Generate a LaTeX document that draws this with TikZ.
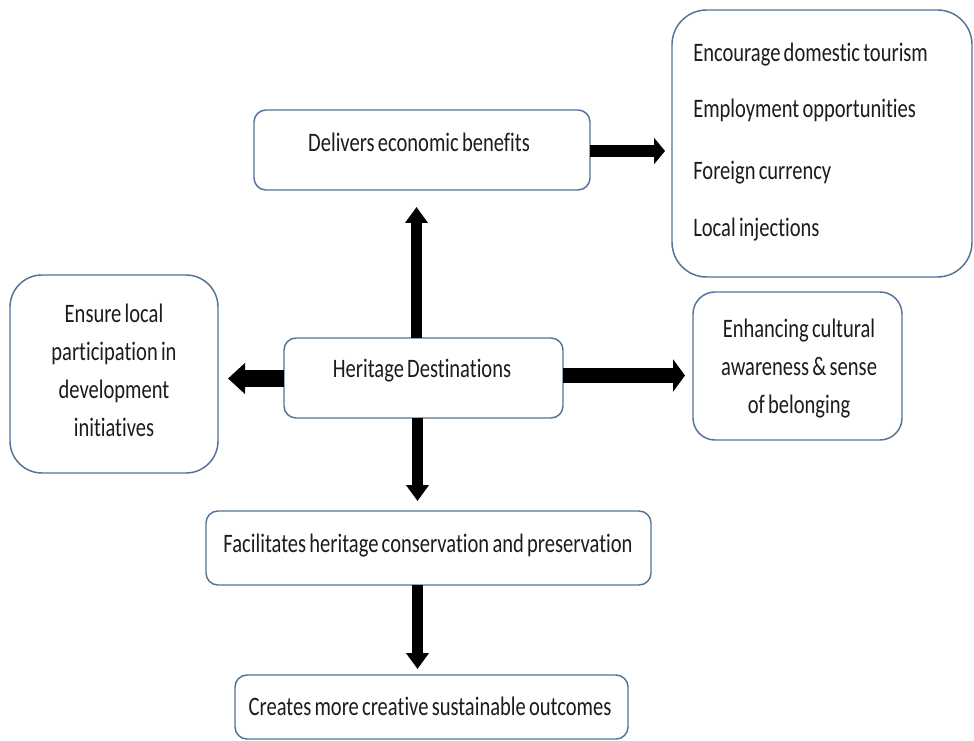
\documentclass[tikz,border=0pt]{standalone}
\usepackage{fontspec}
\setmainfont{Carlito}[FakeStretch=0.77, WordSpace=0.7, RawFeature=-liga]
\usetikzlibrary{arrows.meta}
\definecolor{edge}{RGB}{84,114,150}
\definecolor{ink}{RGB}{28,28,28}
\begin{document}
\begin{tikzpicture}[x=0.75pt,y=-0.75pt,
  box/.style={draw=edge, line width=1.1pt, fill=white, rectangle,
    inner sep=0pt, outer sep=0pt, anchor=north west, rounded corners=#1},
  box/.default=9pt,
  lbl/.style={font=\fontsize{20}{28.5}\selectfont, inner sep=0pt, text=ink, align=center},
  vfat/.style={line width=8.25pt, -{Triangle[width=16.5pt, length=12pt]}},
  lfat/.style={line width=12.75pt, -{Triangle[width=22.5pt, length=12.75pt]}},
  rfat/.style={line width=11.25pt, -{Triangle[width=24pt, length=9pt]}},
  dfat/.style={line width=9pt, -{Triangle[width=19.5pt, length=8.25pt]}}]
\useasboundingbox (0,0) rectangle (974,741);

% boxes
\node[box] (deliv) at (254,110) [minimum width=252pt, minimum height=60pt] {};
\node[box=26pt] (list) at (672,10) [minimum width=225pt, minimum height=200.25pt] {};
\node[box=24pt] (local) at (10,275) [minimum width=156pt, minimum height=148.5pt] {};
\node[box] (herit) at (284,338) [minimum width=209.25pt, minimum height=60pt] {};
\node[box=16.5pt] (enh) at (693,292) [minimum width=156.75pt, minimum height=111pt] {};
\node[box] (facil) at (206,511) [minimum width=333.75pt, minimum height=55.5pt] {};
\node[box] (creat) at (235,675) [minimum width=294.75pt, minimum height=48pt] {};

% texts
\node[lbl, anchor=base] (tdeliv) at (419,152) {Delivers economic benefits};
\node[lbl, anchor=base west] (l1) at (693,62) {Encourage domestic tourism};
\node[lbl, anchor=base west] (l2) at (693,118) {Employment opportunities};
\node[lbl, anchor=base west] (l3) at (693,180) {Foreign currency};
\node[lbl, anchor=base west] (l4) at (693,237) {Local injections};
\node[lbl] (tlocal) at (114,370.5) {Ensure local\\participation in\\development\\initiatives};
\node[lbl, anchor=base] (therit) at (422,378) {Heritage Destinations};
\node[lbl] (tenh) at (799,368.5) {Enhancing cultural\\awareness \& sense\\of belonging};
\node[lbl, anchor=base] (tfacil) at (428,552) {Facilitates heritage conservation and preservation};
\node[lbl, anchor=base] (tcreat) at (430,715) {Creates more creative sustainable outcomes};

% arrow tips
\coordinate (upTip) at (416.5,207);
\coordinate (downTip) at (417.5,501);
\coordinate (down2Tip) at (417.5,669);
\coordinate (leftTip) at (228,378.5);
\coordinate (rightTip) at (685,375.5);
\coordinate (delTip) at (665,151);

% connectors
\draw[vfat] (herit.north -| upTip) -- (upTip);
\draw[vfat] (herit.south -| downTip) -- (downTip);
\draw[vfat] (facil.south -| down2Tip) -- (down2Tip);
\draw[lfat] (herit.west |- leftTip) -- (leftTip);
\draw[rfat] (herit.east |- rightTip) -- (rightTip);
\draw[dfat] (deliv.east |- delTip) -- (delTip);
\end{tikzpicture}
\end{document}
